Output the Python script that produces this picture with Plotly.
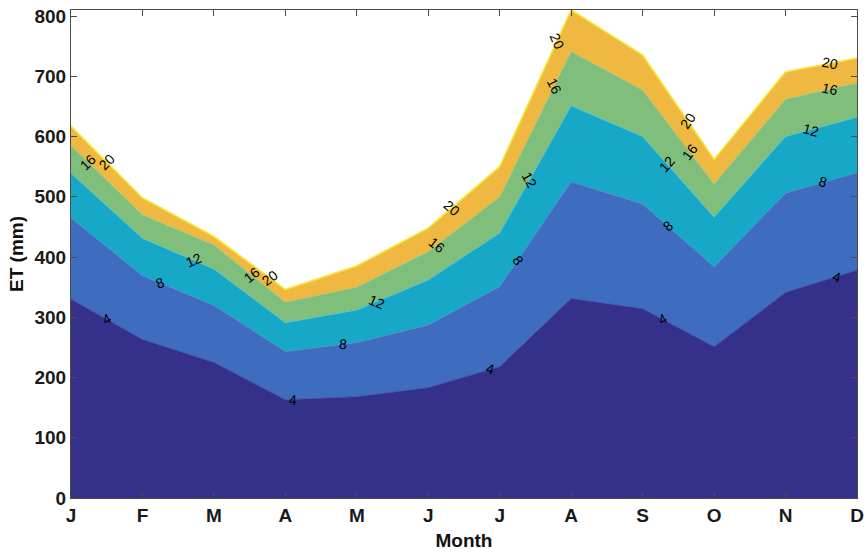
import numpy as np
import plotly.graph_objects as go

months = ["J", "F", "M", "A", "M", "J", "J", "A", "S", "O", "N", "D"]
xidx = list(range(12))

# cumulative ET (mm) at contour boundaries 4, 8, 12, 16, 20
b4 = [330, 263, 225, 163, 168, 183, 218, 331, 314, 251, 341, 378]
b8 = [465, 369, 320, 243, 258, 287, 351, 525, 488, 384, 506, 540]
b12 = [539, 431, 380, 291, 312, 362, 440, 651, 600, 466, 600, 632]
b16 = [585, 470, 420, 325, 350, 409, 500, 741, 677, 521, 662, 689]
b20 = [617, 498, 434, 346, 385, 448, 550, 810, 735, 562, 707, 730]
levels = [4, 8, 12, 16, 20]
boundaries = [b4, b8, b12, b16, b20]
colors = ["#35308a", "#3e6cbf", "#16a8c6", "#80be7c", "#efb841"]
edge = ["#3a3c95", "#4f86c9", "#4fbfd0", "#98c98a", "#f2c24e"]
top_color = "#f6e531"

# contour label positions (month index) per level
label_pos = {
    4: [0.5, 3.1, 5.87, 8.28, 10.72],
    8: [1.24, 3.8, 6.25, 8.35, 10.53],
    12: [1.72, 4.28, 6.42, 8.34, 10.35],
    16: [0.24, 2.53, 5.12, 6.76, 8.66, 10.62],
    20: [0.5, 2.78, 5.33, 6.8, 8.63, 10.62],
}

fig = go.Figure()
for i, (b, c, e) in enumerate(zip(boundaries, colors, edge)):
    fig.add_trace(go.Scatter(
        x=xidx, y=b, mode="lines",
        line=dict(color=e, width=0.8),
        fillcolor=c,
        fill="tozeroy" if i == 0 else "tonexty",
        hoverinfo="skip", showlegend=False,
    ))
fig.add_trace(go.Scatter(x=xidx, y=b20, mode="lines",
                         line=dict(color=top_color, width=1.6),
                         hoverinfo="skip", showlegend=False))

W, H = 866, 552
ml, mr, mt, mb = 71, 9, 10, 54
ymax = 810
pxx = (W - ml - mr) / 11.0
pxy = (H - mt - mb) / ymax

for lev, b in zip(levels, boundaries):
    for xp in label_pos[lev]:
        yv = float(np.interp(xp, xidx, b))
        k = int(min(np.floor(xp), 10))
        dv = b[k + 1] - b[k]
        ang = np.degrees(np.arctan2(-dv * pxy, pxx))
        fig.add_annotation(x=xp, y=yv, text=str(lev), showarrow=False,
                           textangle=float(-ang),
                           font=dict(family="Liberation Sans, Arial", size=14, color="black"))

FONT = "Liberation Sans, Arial"
axis_common = dict(
    showgrid=False, zeroline=False, showline=True, linecolor="#4a4a4a",
    linewidth=1, mirror="allticks", ticks="inside", ticklen=6,
    tickcolor="#4a4a4a", automargin=False,
    tickfont=dict(family=FONT, size=19, color="#1a1a1a", weight="bold"),
)
fig.update_xaxes(range=[0, 11], tickvals=xidx, ticktext=months,
                 title=dict(text="Month", standoff=8,
                            font=dict(family=FONT, size=19, color="#111", weight="bold")),
                 **axis_common)
fig.update_yaxes(range=[0, ymax], tickvals=list(range(0, 801, 100)),
                 title=dict(text="ET (mm)", standoff=5,
                            font=dict(family=FONT, size=19, color="#111", weight="bold")),
                 **axis_common)
fig.update_layout(width=W, height=H, margin=dict(l=ml, r=mr, t=mt, b=mb),
                  plot_bgcolor="white", paper_bgcolor="white")
fig.write_html("out.html")
